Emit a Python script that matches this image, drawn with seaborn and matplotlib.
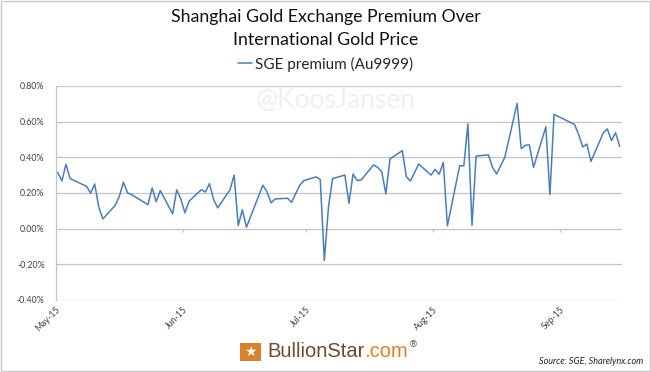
import numpy as np
import pandas as pd
import seaborn as sns
import matplotlib.pyplot as plt
import matplotlib.ticker as mticker
from matplotlib.patches import Rectangle

# days after 1 May 2015 and SGE premium in percent
day_offsets = [0, 1, 2, 3, 7, 8, 9, 10, 11, 14, 15, 16, 17, 18, 22, 23, 24, 25,
               28, 29, 30, 31, 32, 35, 36, 37, 38, 39, 42, 43, 44, 45, 46, 50,
               51, 52, 53, 56, 57, 59, 60, 63, 64, 65, 66, 67, 70, 71, 72, 73,
               74, 77, 78, 79, 80, 81, 84, 85, 86, 88, 91, 92, 93, 94, 95, 98,
               99, 100, 101, 102, 105, 106, 107, 109, 112, 113, 114, 115, 116,
               119, 120, 121, 126, 127, 128, 129, 130, 133, 134, 135, 136, 137]
premium = [0.315, 0.267, 0.36, 0.28, 0.237, 0.198, 0.25, 0.12, 0.054, 0.13,
           0.18, 0.26, 0.20, 0.19, 0.134, 0.228, 0.151, 0.213, 0.082, 0.217,
           0.166, 0.088, 0.153, 0.218, 0.205, 0.252, 0.162, 0.116, 0.218, 0.30,
           0.017, 0.105, 0.007, 0.243, 0.207, 0.144, 0.166, 0.17, 0.147, 0.243,
           0.269, 0.29, 0.275, -0.178, 0.12, 0.28, 0.30, 0.142, 0.306, 0.269,
           0.273, 0.357, 0.343, 0.318, 0.194, 0.39, 0.437, 0.29, 0.267, 0.362,
           0.30, 0.332, 0.304, 0.371, 0.015, 0.353, 0.351, 0.587, 0.018, 0.407,
           0.413, 0.343, 0.306, 0.40, 0.702, 0.448, 0.467, 0.469, 0.343, 0.571,
           0.19, 0.64, 0.584, 0.527, 0.458, 0.474, 0.377, 0.536, 0.559, 0.493,
           0.538, 0.461]
month_ticks = ["2015-05-01", "2015-06-01", "2015-07-01", "2015-08-01", "2015-09-01"]
month_labels = ["May-15", "Jun-15", "Jul-15", "Aug-15", "Sep-15"]
y_ticks = [-0.4, -0.2, 0.0, 0.2, 0.4, 0.6, 0.8]

start = pd.Timestamp("2015-05-01")
dates = start + pd.to_timedelta(day_offsets, unit="D")
df = pd.DataFrame({"date": dates + pd.Timedelta(hours=12), "premium": premium})

sns.set_style("white")
plt.rcParams["font.family"] = ["Lato", "DejaVu Sans"]

fig = plt.figure(figsize=(6.51, 3.72), dpi=100)
ax = fig.add_axes([0.0856, 0.194, 0.8694, 0.575])

sns.lineplot(data=df, x="date", y="premium", ax=ax, color="#4a7ebb",
             linewidth=1.1, label="SGE premium (Au9999)", legend=False)

ax.set_xlim(start, pd.Timestamp("2015-09-16"))
ax.set_ylim(-0.4, 0.8)
ax.set_yticks(y_ticks)
ax.yaxis.set_major_formatter(mticker.FuncFormatter(lambda v, p: f"{v:.2f}%"))
ax.set_xticks(pd.to_datetime(month_ticks))
ax.set_xticklabels(month_labels, rotation=45, ha="right", rotation_mode="anchor")
ax.tick_params(axis="both", labelsize=6.3, colors="#404040", length=0)
ax.tick_params(axis="x", pad=4)
ax.tick_params(axis="y", pad=8)
ax.set_xlabel("")
ax.set_ylabel("")
ax.grid(axis="y", color="#c4c4c4", linewidth=0.9)
ax.set_axisbelow(True)
for side in ["top", "right", "bottom"]:
    ax.spines[side].set_visible(False)
ax.spines["left"].set_color("#c4c4c4")
ax.spines["left"].set_linewidth(0.9)

# small tick marks on the zero line, like the original category axis
ax.vlines(pd.to_datetime(month_ticks), -0.02, 0, color="#c4c4c4", linewidth=0.9)

# watermark
ax.text(0.495, 0.93, "@KoosJansen", transform=ax.transAxes, ha="center",
        va="center", fontsize=19, color="#f0f0f0", zorder=0)

# titles and legend above the plot
fig.text(0.5, 0.955, "Shanghai Gold Exchange Premium Over", ha="center",
         va="center", fontsize=12.8, color="#111111")
fig.text(0.5, 0.893, "International Gold Price", ha="center", va="center",
         fontsize=12.8, color="#111111")
fig.legend(loc="center", bbox_to_anchor=(0.5, 0.828), frameon=False,
           fontsize=11, handlelength=0.9, handletextpad=0.2, borderpad=0)

# BullionStar logo
fig.patches.append(Rectangle((0.3687, 0.03), 0.032, 0.048, transform=fig.transFigure,
                             facecolor="#d9822b", edgecolor="none"))
fig.text(0.3847, 0.054, "★", ha="center", va="center", fontsize=10, color="white",
         family="DejaVu Sans")
brand = fig.text(0.410, 0.056, "BullionStar", ha="left", va="center", fontsize=14.5,
                 color="#6b4a31", family="Liberation Sans")
dotcom = fig.text(0, 0, ".com", fontsize=14.5, color="#d9822b", family="Liberation Sans",
                  va="center", ha="left")
fig.canvas.draw()
inv = fig.transFigure.inverted()
bb = brand.get_window_extent()
x1, _ = inv.transform((bb.x1, bb.y0))
dotcom.set_position((x1, brand.get_position()[1]))
fig.canvas.draw()
bb2 = dotcom.get_window_extent()
x2, y2 = inv.transform((bb2.x1, bb2.y1))
fig.text(x2 + 0.001, y2 - 0.008, "®", ha="left", va="center", fontsize=6.5,
         color="#6b4a31", family="DejaVu Sans")

fig.text(0.988, 0.027, "Source: SGE, Sharelynx.com", ha="right", va="center",
         fontsize=6.5, style="italic", color="#222222")

# thin frame around the whole image
fig.patches.append(Rectangle((0.001, 0.002), 0.997, 0.995, transform=fig.transFigure,
                             facecolor="none", edgecolor="#c8c8c8", linewidth=1))

fig.savefig("out.png", dpi=100)
